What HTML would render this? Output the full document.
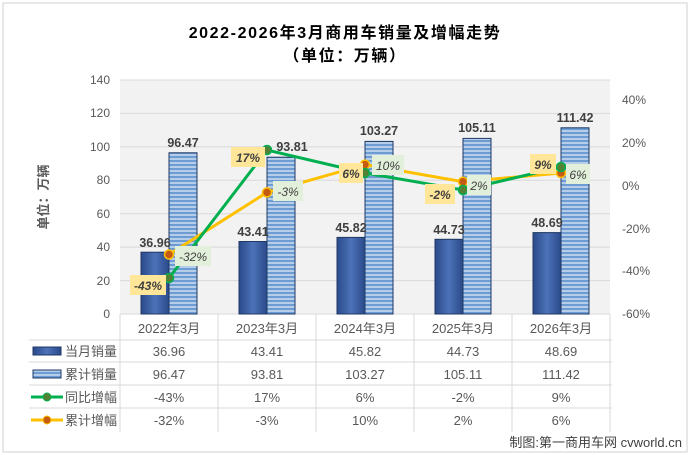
<!DOCTYPE html><html><head><meta charset="utf-8"><style>body{margin:0;background:#fff}svg{display:block;font-family:"Liberation Sans","Noto Sans CJK SC",sans-serif}</style></head><body>
<svg width="690" height="455" viewBox="0 0 690 455" xmlns="http://www.w3.org/2000/svg">
<defs>
<linearGradient id="dk" x1="0" x2="1" y1="0" y2="0"><stop offset="0" stop-color="#2a4a8a"/><stop offset="0.5" stop-color="#4d72b8"/><stop offset="1" stop-color="#2a4a8a"/></linearGradient>
<pattern id="lt" width="4" height="4" patternUnits="userSpaceOnUse"><rect width="4" height="4" fill="#b6cde9"/><rect width="4" height="2" fill="#6d9cd3"/></pattern>
</defs>
<rect x="3" y="3" width="684" height="449" fill="#fff" stroke="#d0d0d0"/>
<text x="345" y="38" font-size="16" font-weight="bold" text-anchor="middle" fill="#000" letter-spacing="1.6">2022-2026年3月商用车销量及增幅走势</text>
<text x="345" y="61" font-size="16" font-weight="bold" text-anchor="middle" fill="#000" letter-spacing="1.6">（单位：万辆）</text>
<rect x="120" y="80" width="490" height="234" fill="#f2f2f2"/>
<g stroke="#d9d9d9" stroke-width="1">
<line x1="120" x2="610" y1="80" y2="80"/><line x1="120" x2="610" y1="113.4" y2="113.4"/><line x1="120" x2="610" y1="146.9" y2="146.9"/><line x1="120" x2="610" y1="180.3" y2="180.3"/><line x1="120" x2="610" y1="213.7" y2="213.7"/><line x1="120" x2="610" y1="247.1" y2="247.1"/><line x1="120" x2="610" y1="280.6" y2="280.6"/><line x1="120" x2="610" y1="314" y2="314"/>
</g>
<g font-size="12" fill="#595959" text-anchor="end">
<text x="110" y="84">140</text><text x="110" y="117">120</text><text x="110" y="151">100</text><text x="110" y="184">80</text><text x="110" y="218">60</text><text x="110" y="251">40</text><text x="110" y="285">20</text><text x="110" y="318">0</text>
</g>
<g font-size="12" fill="#595959" text-anchor="start">
<text x="622" y="104">40%</text><text x="622" y="147">20%</text><text x="622" y="190">0%</text><text x="622" y="233">-20%</text><text x="622" y="275">-40%</text><text x="622" y="318">-60%</text>
</g>
<text transform="translate(48,197) rotate(-90)" font-size="13" font-weight="bold" fill="#595959" text-anchor="middle">单位：万辆</text>
<g stroke="#1f3864" stroke-width="1">
<rect x="141" y="252.2" width="28" height="61.8" fill="url(#dk)"/><rect x="169" y="152.8" width="28" height="161.2" fill="url(#lt)"/>
<rect x="239" y="241.5" width="28" height="72.5" fill="url(#dk)"/><rect x="267" y="157.2" width="28" height="156.8" fill="url(#lt)"/>
<rect x="337" y="237.4" width="28" height="76.6" fill="url(#dk)"/><rect x="365" y="141.4" width="28" height="172.6" fill="url(#lt)"/>
<rect x="435" y="239.3" width="28" height="74.7" fill="url(#dk)"/><rect x="463" y="138.4" width="28" height="175.6" fill="url(#lt)"/>
<rect x="533" y="232.6" width="28" height="81.4" fill="url(#dk)"/><rect x="561" y="127.8" width="28" height="186.2" fill="url(#lt)"/>
</g>
<g font-size="12.5" font-weight="bold" fill="#404040" text-anchor="middle">
<text x="155" y="247">36.96</text><text x="183" y="147">96.47</text>
<text x="253" y="236">43.41</text><text x="292" y="151">93.81</text>
<text x="351" y="232">45.82</text><text x="379" y="135">103.27</text>
<text x="449" y="234">44.73</text><text x="477" y="132">105.11</text>
<text x="547" y="227">48.69</text><text x="575" y="122">111.42</text>
</g>
<polyline points="169,254.5 267,192.4 365,164.6 463,181.7 561,173" fill="none" stroke="#ffc000" stroke-width="3"/>
<polyline points="169,278 267,150 365,173 463,190 561,167" fill="none" stroke="#00b050" stroke-width="3"/>
<g fill="#c55a11" stroke="#ffc000" stroke-width="1.5">
<circle cx="169" cy="254.5" r="4.5"/><circle cx="267" cy="192.4" r="4.5"/><circle cx="365" cy="164.6" r="4.5"/><circle cx="463" cy="181.7" r="4.5"/><circle cx="561" cy="173" r="4.5"/>
</g>
<g fill="#548235" stroke="#00b050" stroke-width="1.5">
<circle cx="169" cy="278" r="4.5"/><circle cx="267" cy="150" r="4.5"/><circle cx="365" cy="173" r="4.5"/><circle cx="463" cy="190" r="4.5"/><circle cx="561" cy="167" r="4.5"/>
</g>
<g fill="#ffe699"><rect x="130" y="275" width="36" height="20"/><rect x="231" y="147" width="34" height="20"/><rect x="339" y="163" width="24" height="20"/><rect x="425" y="184" width="30" height="20"/><rect x="530" y="154" width="26" height="20"/></g>
<g font-size="12" font-weight="bold" font-style="italic" fill="#404040" text-anchor="middle">
<text x="148" y="290">-43%</text><text x="248" y="162">17%</text><text x="351" y="178">6%</text><text x="440" y="199">-2%</text><text x="543" y="169">9%</text>
</g>
<g fill="#e2efda"><rect x="175" y="246" width="36" height="20"/><rect x="273" y="181" width="30" height="20"/><rect x="372" y="155" width="32" height="20"/><rect x="467" y="175" width="24" height="20"/><rect x="566" y="164" width="24" height="20"/></g>
<g font-size="12" font-style="italic" fill="#404040" text-anchor="middle">
<text x="193" y="261">-32%</text><text x="288" y="196">-3%</text><text x="388" y="170">10%</text><text x="479" y="190">2%</text><text x="578" y="179">6%</text>
</g>
<g stroke="#d9d9d9" stroke-width="1">
<line x1="29" x2="612" y1="340" y2="340"/><line x1="29" x2="612" y1="362" y2="362"/><line x1="29" x2="612" y1="385" y2="385"/><line x1="29" x2="612" y1="408" y2="408"/>
<line x1="120" x2="120" y1="314" y2="432"/><line x1="218" x2="218" y1="314" y2="432"/><line x1="316" x2="316" y1="314" y2="432"/><line x1="414" x2="414" y1="314" y2="432"/><line x1="512" x2="512" y1="314" y2="432"/><line x1="610" x2="610" y1="314" y2="432"/>
</g>
<g font-size="13" fill="#595959" text-anchor="middle">
<text x="169" y="333">2022年3月</text><text x="267" y="333">2023年3月</text><text x="365" y="333">2024年3月</text><text x="463" y="333">2025年3月</text><text x="561" y="333">2026年3月</text>
<text x="169" y="356">36.96</text><text x="267" y="356">43.41</text><text x="365" y="356">45.82</text><text x="463" y="356">44.73</text><text x="561" y="356">48.69</text>
<text x="169" y="379">96.47</text><text x="267" y="379">93.81</text><text x="365" y="379">103.27</text><text x="463" y="379">105.11</text><text x="561" y="379">111.42</text>
<text x="169" y="402">-43%</text><text x="267" y="402">17%</text><text x="365" y="402">6%</text><text x="463" y="402">-2%</text><text x="561" y="402">9%</text>
<text x="169" y="425">-32%</text><text x="267" y="425">-3%</text><text x="365" y="425">10%</text><text x="463" y="425">2%</text><text x="561" y="425">6%</text>
</g>
<rect x="33" y="347" width="28" height="8" fill="url(#dk)" stroke="#1f3864"/>
<rect x="33" y="370" width="28" height="8" fill="url(#lt)" stroke="#1f3864"/>
<line x1="31" x2="63" y1="397" y2="397" stroke="#00b050" stroke-width="3"/><circle cx="47" cy="397" r="4" fill="#548235" stroke="#00b050"/>
<line x1="31" x2="63" y1="420" y2="420" stroke="#ffc000" stroke-width="3"/><circle cx="47" cy="420" r="4" fill="#c55a11" stroke="#ffc000"/>
<g font-size="13" fill="#595959">
<text x="65" y="356">当月销量</text><text x="65" y="379">累计销量</text><text x="65" y="402">同比增幅</text><text x="65" y="425">累计增幅</text>
</g>
<text x="682" y="447" font-size="13" fill="#404040" text-anchor="end">制图:第一商用车网 cvworld.cn</text>
</svg>
</body></html>
